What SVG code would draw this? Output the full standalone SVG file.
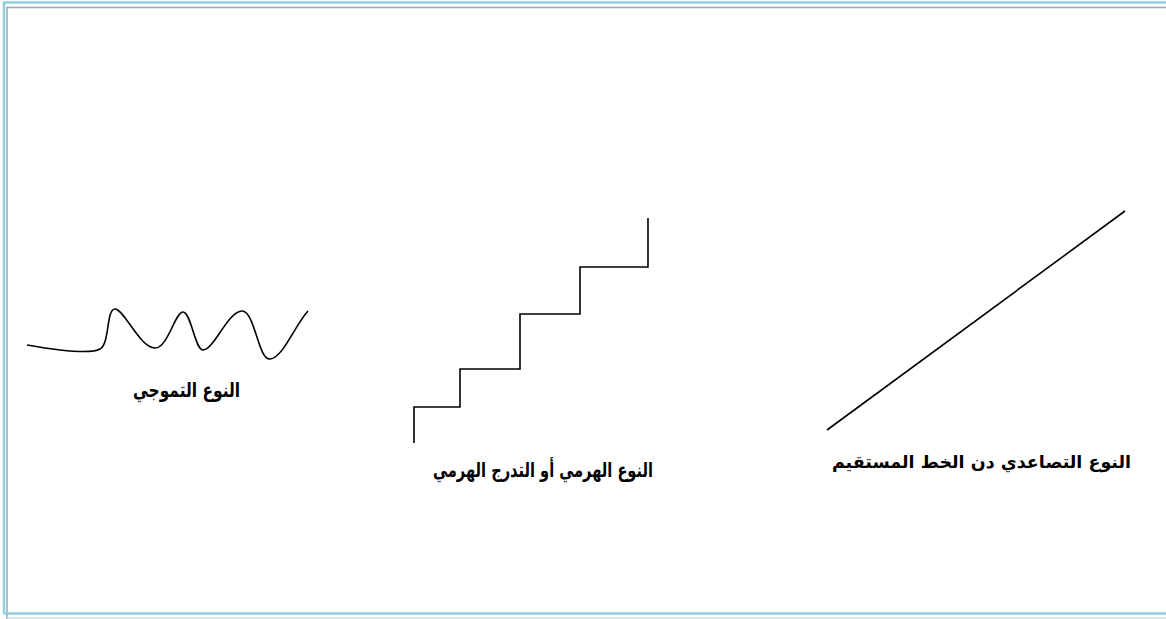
<svg xmlns="http://www.w3.org/2000/svg" width="1166" height="619" viewBox="0 0 1166 619">
<style>
.curve{fill:none;stroke:#000;stroke-width:1.6;stroke-linejoin:miter}
.lbl{font-family:"DejaVu Sans","Noto Sans",sans-serif;font-size:20px;font-weight:bold;fill:#000;text-anchor:middle}
</style>
<rect width="1166" height="619" fill="#fff"/>
<g id="frame" fill="none">
<path d="M1166 2.5 H4 V614" stroke="#92CDDC" stroke-width="2.5"/>
<path d="M1166 7.5 H7 V619" stroke="#8FAAB2" stroke-width="1.5"/>
<path d="M4 613.5 H1166" stroke="#92CDDC" stroke-width="2.5"/>
<path d="M7 618 H1166" stroke="#C9DDE1" stroke-width="1.5"/>
</g>
<g id="wave">
<path class="curve" d="M27 345 C50 349 90 355 100 349 C110 344 106 309 115 309 C124 309 140 348 155 348 C168 348 175 312 183 312 C191 312 195 350 203 350 C214 350 228 311 242 311 C255 311 258 360 270 359 C283 358 295 325 308 311"/>
<text class="lbl" x="186.5" y="397" direction="rtl" textLength="107" lengthAdjust="spacingAndGlyphs">النوع التموجي</text>
</g>
<g id="stairs">
<path class="curve" d="M414 443 V407 H460 V369 H520 V314 H580 V267 H648 V218"/>
<text class="lbl" x="543" y="477" direction="rtl" textLength="220" lengthAdjust="spacingAndGlyphs">النوع الهرمي أو التدرج الهرمي</text>
</g>
<g id="straight">
<path class="curve" d="M827 430 L1125 211"/>
<text class="lbl" x="981.5" y="468" direction="rtl" style="font-size:17.5px">النوع التصاعدي دن الخط المستقيم</text>
</g>
</svg>
